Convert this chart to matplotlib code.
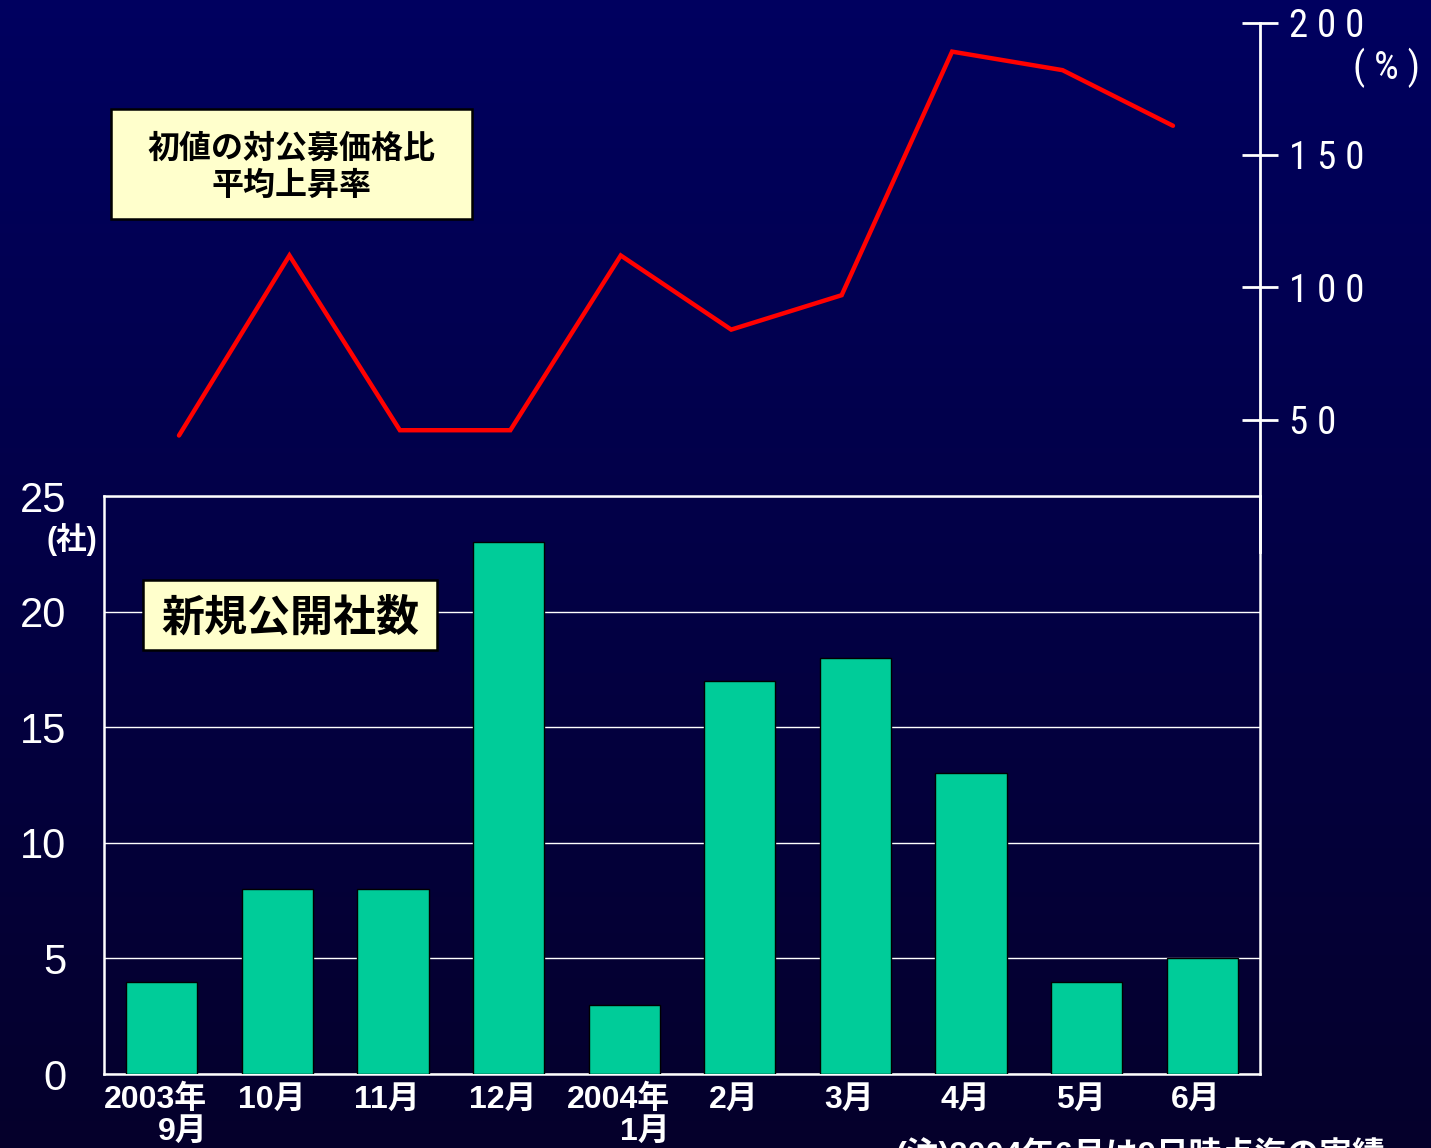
import numpy as np
import matplotlib.pyplot as plt
from matplotlib.patches import Rectangle
from matplotlib.transforms import ScaledTranslation

# monthly data
months = ['2003年\n9月', '10月', '11月', '12月', '2004年\n1月',
          '2月', '3月', '4月', '5月', '6月']
new_listings = [4, 8, 8, 23, 3, 17, 18, 13, 4, 5]          # 新規公開社数 (社)
first_price_rise = [44, 112, 46, 46, 112, 84, 97, 189, 182, 161]  # 平均上昇率 (%)
count_ticks = [0, 5, 10, 15, 20, 25]
rate_ticks = [50, 100, 150, 200]

W, H = 1431, 1148
JP = ['Liberation Sans', 'Noto Sans CJK JP']
NARROW = ['Roboto Condensed', 'Open Sans Condensed', 'DejaVu Sans']


def fx(px):
    return px / W


def fy(py):
    return 1 - py / H


fig = plt.figure(figsize=(W / 100, H / 100), dpi=100)

# dark blue backdrop, slightly darker towards the bottom
bg = fig.add_axes([0, 0, 1, 1], zorder=-10)
top = np.array([0.0, 0.0, 0.375])
bot = np.array([0.02, 0.0, 0.17])
t = np.linspace(0, 1, 256)[:, None, None]
bg.imshow(top + (bot - top) * t, aspect='auto', extent=[0, 1, 0, 1])
bg.axis('off')

# bar chart: number of new listings
ax = fig.add_axes([fx(104), fy(1074), fx(1260) - fx(104), fy(496) - fy(1074)])
ax.set_facecolor('none')
x = np.arange(len(months))
ax.bar(x, new_listings, width=0.615, color='#00CC99', edgecolor='black',
       linewidth=1.0, zorder=3)
ax.set_xlim(-0.5, len(months) - 0.5)
ax.set_ylim(0, 25)
ax.set_yticks(count_ticks)
ax.yaxis.grid(True, color='white', linewidth=1.0, zorder=1)
ax.set_axisbelow(True)
for s in ax.spines.values():
    s.set_color('white')
    s.set_linewidth(1.8)
ax.tick_params(axis='y', length=0, pad=27, labelcolor='white', labelsize=30)
for lab in ax.get_yticklabels():
    lab.set_family('Liberation Sans')
ax.set_xticks(x)
ax.set_xticklabels(months, family=JP, fontweight='bold', fontsize=23,
                   color='white', multialignment='right', linespacing=1.05)
ax.tick_params(axis='x', length=0, pad=8)
shift = ScaledTranslation(-6 / 100, 0, fig.dpi_scale_trans)
for lab in ax.get_xticklabels():
    lab.set_transform(lab.get_transform() + shift)
fig.text(fx(72), fy(540), '(社)', family=JP, fontweight='bold', fontsize=22,
         color='white', ha='center', va='center')

# line chart: average first-price rise over offer price
ax2 = fig.add_axes([fx(104), fy(552), fx(1260) - fx(104), fy(22.5) - fy(552)])
ax2.set_facecolor('none')
ax2.plot(x, first_price_rise, color='#FF0000', linewidth=3.2,
         solid_joinstyle='miter', solid_capstyle='round')
ax2.set_xlim(-0.679, 9.788)
ax2.set_ylim(0, 200)
for side in ['left', 'top', 'bottom']:
    ax2.spines[side].set_visible(False)
ax2.spines['right'].set_color('white')
ax2.spines['right'].set_linewidth(2)
ax2.yaxis.tick_right()
ax2.set_xticks([])
ax2.set_yticks(rate_ticks)
ax2.set_yticklabels([' '.join(str(v)) for v in rate_ticks], family=NARROW,
                    fontstretch='condensed', fontsize=28, color='white')
ax2.tick_params(axis='y', direction='inout', length=26, width=2,
                color='white', pad=8)
fig.text(fx(1353), fy(68), '( % )', family=NARROW, fontstretch='condensed',
         fontsize=28, color='white', ha='left', va='center')

# label boxes
fig.patches.append(Rectangle((fx(111), fy(219)), fx(472) - fx(111),
                             fy(109) - fy(219), transform=fig.transFigure,
                             facecolor='#FFFFCC', edgecolor='black',
                             linewidth=1.8, zorder=5))
fig.text(fx(291.5), fy(168), '初値の対公募価格比\n平均上昇率', family=JP,
         fontweight='bold', fontsize=23, color='black', ha='center',
         va='center', linespacing=1.3, zorder=6)

fig.patches.append(Rectangle((fx(143), fy(650)), fx(437) - fx(143),
                             fy(580) - fy(650), transform=fig.transFigure,
                             facecolor='#FFFFCC', edgecolor='black',
                             linewidth=1.8, zorder=5))
fig.text(fx(290), fy(619), '新規公開社数', family=JP, fontweight='bold',
         fontsize=31, color='black', ha='center', va='center', zorder=6)

# footnote (runs off the lower edge)
fig.text(fx(895), fy(1137), '(注)2004年6月は9日時点迄の実績', family=JP,
         fontweight='bold', fontsize=23.5, color='white', ha='left', va='top')

fig.savefig('out.png', dpi=100)
